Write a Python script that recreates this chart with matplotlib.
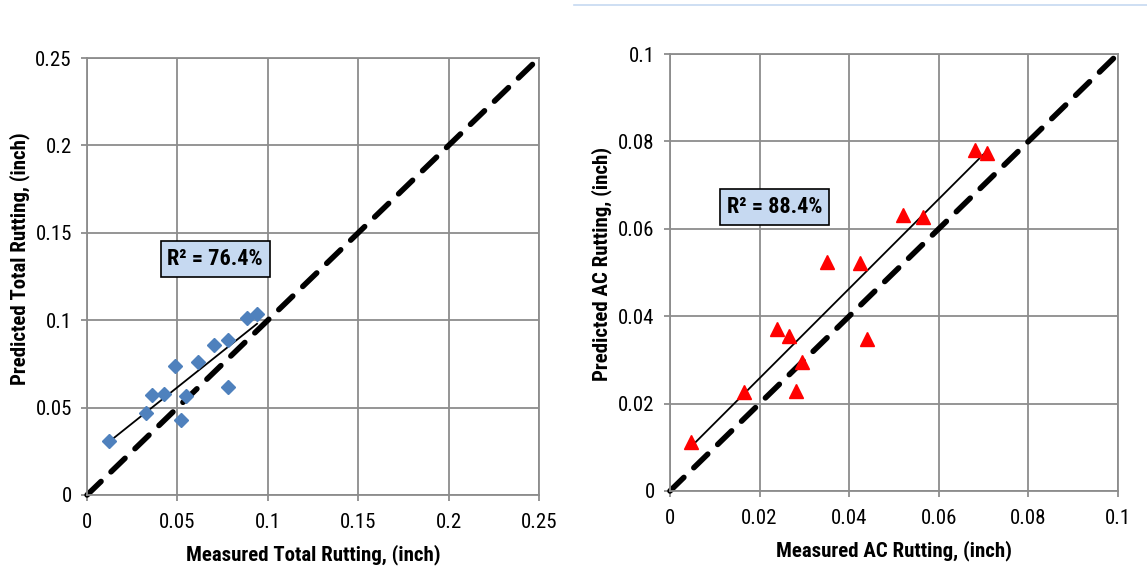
import matplotlib
matplotlib.use("Agg")
import matplotlib.pyplot as plt
from matplotlib.lines import Line2D
from matplotlib import font_manager
import numpy as np

# Measured vs predicted total rutting (inch)
total_measured = [0.0122, 0.0326, 0.0360, 0.0426, 0.0487, 0.0548, 0.0520,
                  0.0614, 0.0702, 0.0780, 0.0780, 0.0885, 0.0940]
total_predicted = [0.0309, 0.0469, 0.0570, 0.0578, 0.0738, 0.0566, 0.0429,
                   0.0761, 0.0858, 0.0887, 0.0618, 0.1013, 0.1035]

# Measured vs predicted AC rutting (inch)
ac_measured = [0.0048, 0.0166, 0.0238, 0.0266, 0.0294, 0.0281, 0.0350,
               0.0424, 0.0440, 0.0521, 0.0564, 0.0681, 0.0707]
ac_predicted = [0.0113, 0.0226, 0.0371, 0.0355, 0.0296, 0.0229, 0.0523,
                0.0521, 0.0347, 0.0632, 0.0628, 0.0780, 0.0774]

total_ticks = [0, 0.05, 0.1, 0.15, 0.2, 0.25]
total_ticklabels = ["0", "0.05", "0.1", "0.15", "0.2", "0.25"]
ac_ticks = [0, 0.02, 0.04, 0.06, 0.08, 0.1]
ac_ticklabels = ["0", "0.02", "0.04", "0.06", "0.08", "0.1"]

r2_total = "R\u00b2 = 76.4%"
r2_ac = "R\u00b2 = 88.4%"


def find_font(bold):
    """Pick a narrow sans face if one is installed."""
    fonts = font_manager.fontManager.ttflist
    want_w = 700 if bold else 400
    prefs = ["Liberation Sans Narrow", "Arial Narrow", "Roboto Condensed",
             "Open Sans Condensed", "DejaVu Sans Condensed"]
    for name in prefs:
        for f in fonts:
            if f.name == name and f.style == "normal" and \
                    (f.weight >= 600) == bold:
                return font_manager.FontProperties(fname=f.fname)
    for f in fonts:
        if f.style == "normal" and "condensed" in str(f.stretch) and \
                (f.weight >= 600) == bold and "Sans" in f.name:
            return font_manager.FontProperties(fname=f.fname)
    return font_manager.FontProperties(family="Liberation Sans",
                                       weight=want_w)


fp_reg = find_font(False)
fp_bold = find_font(True)


def fp(base, size):
    p = base.copy()
    p.set_size(size)
    return p


fig = plt.figure(figsize=(11.47, 5.79), dpi=100)
ax1 = fig.add_axes([0.0759, 0.1451, 0.3941, 0.7547])
ax2 = fig.add_axes([0.5841, 0.1520, 0.3906, 0.7547])

GRID = "#8c8c8c"


def style_axes(ax, ticks, labels, lim):
    ax.set_xlim(0, lim)
    ax.set_ylim(0, lim)
    ax.set_xticks(ticks)
    ax.set_xticklabels(labels, fontproperties=fp(fp_reg, 15))
    ax.set_yticks(ticks)
    ax.set_yticklabels(labels, fontproperties=fp(fp_reg, 15))
    ax.grid(True, color=GRID, linewidth=1.3)
    ax.set_axisbelow(True)
    for s in ax.spines.values():
        s.set_color(GRID)
        s.set_linewidth(1.3)
    ax.tick_params(axis="both", colors=GRID, length=4, width=1.3,
                   labelcolor="black", pad=7)
    ax.tick_params(axis="x", pad=9)


def fit_line(ax, x, y):
    x = np.asarray(x)
    y = np.asarray(y)
    k, b = np.polyfit(x, y, 1)
    xs = np.array([x.min(), x.max()])
    ax.plot(xs, k * xs + b, color="black", linewidth=1.3, zorder=3)


def one_to_one(ax, lim):
    ax.plot([0, lim], [0, lim], color="black", linewidth=4,
            dashes=(3.5, 2.5), solid_capstyle="round",
            dash_capstyle="round", zorder=2, clip_on=False)


def r2_box(ax, x, y, text):
    ax.text(x, y, text, ha="center", va="center",
            fontproperties=fp(fp_bold, 16), zorder=5,
            bbox=dict(boxstyle="square,pad=0.3", facecolor="#c6d9f1",
                      edgecolor="black", linewidth=1.2))


# Left panel: total rutting
style_axes(ax1, total_ticks, total_ticklabels, 0.25)
one_to_one(ax1, 0.25)
ax1.plot(total_measured, total_predicted, linestyle="none", marker="D",
         markersize=7.5, color="#4f81bd", zorder=4)
fit_line(ax1, total_measured, total_predicted)
ax1.set_xlabel("Measured Total Rutting, (inch)",
               fontproperties=fp(fp_bold, 15), labelpad=9)
ax1.set_ylabel("Predicted Total Rutting, (inch)",
               fontproperties=fp(fp_bold, 15), labelpad=4)
ax1.yaxis.set_label_coords(-0.126, 0.54)
r2_box(ax1, 0.0708, 0.135, r2_total)

# Right panel: AC rutting
style_axes(ax2, ac_ticks, ac_ticklabels, 0.1)
one_to_one(ax2, 0.1)
ax2.plot(ac_measured, ac_predicted, linestyle="none", marker="^",
         markersize=9.5, color="#ff0000", zorder=4)
fit_line(ax2, ac_measured, ac_predicted)
ax2.set_xlabel("Measured AC Rutting, (inch)",
               fontproperties=fp(fp_bold, 15), labelpad=9)
ax2.set_ylabel("Predicted AC Rutting, (inch)",
               fontproperties=fp(fp_bold, 15), labelpad=4)
ax2.yaxis.set_label_coords(-0.129, 0.52)
r2_box(ax2, 0.0234, 0.065, r2_ac)

# Thin rule along the top of the right half
fig.add_artist(Line2D([0.5, 1.0], [1 - 5 / 579, 1 - 5 / 579],
                      transform=fig.transFigure, color="#c6d9f1",
                      linewidth=1.2))

fig.savefig("out.png", dpi=100)
